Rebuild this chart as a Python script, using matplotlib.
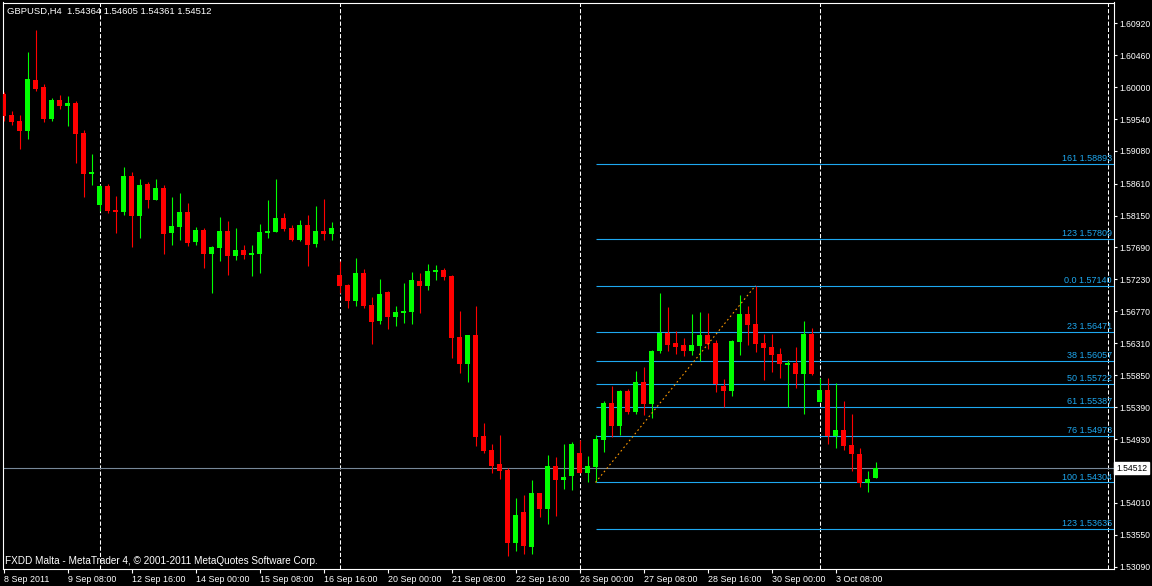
import matplotlib
matplotlib.use("Agg")
import matplotlib.pyplot as plt
import numpy as np
from matplotlib.transforms import blended_transform_factory

plt.rcParams['font.family'] = ['Liberation Sans', 'DejaVu Sans']

# GBPUSD H4 bars, 8 Sep 2011 00:00 .. 4 Oct 2011 04:00
opens = [
    1.5990, 1.5960, 1.5951, 1.5937, 1.6010, 1.6000, 1.5954, 1.5981, 1.5973, 1.5977,
    1.5934, 1.5875, 1.5830, 1.5858, 1.5823, 1.5820, 1.5872, 1.5814, 1.5860, 1.5837,
    1.5855, 1.5790, 1.5799, 1.5820, 1.5777, 1.5794, 1.5760, 1.5768, 1.5793, 1.5757,
    1.5765, 1.5758, 1.5760, 1.5790, 1.5791, 1.5812, 1.5797, 1.5780, 1.5801, 1.5774,
    1.5793, 1.5788, 1.5729, 1.5715, 1.5692, 1.5732, 1.5686, 1.5663, 1.5705, 1.5669,
    1.5675, 1.5676, 1.5721, 1.5714, 1.5734, 1.5737, 1.5728, 1.5640, 1.5601, 1.5643,
    1.5497, 1.5477, 1.5457, 1.5448, 1.5343, 1.5388, 1.5337, 1.5415, 1.5392, 1.5454,
    1.5434, 1.5440, 1.5473, 1.5444, 1.5453, 1.5492, 1.5545, 1.5512, 1.5562, 1.5532,
    1.5575, 1.5543, 1.5620, 1.5646, 1.5631, 1.5628, 1.5620, 1.5627, 1.5643, 1.5631,
    1.5569, 1.5562, 1.5633, 1.5673, 1.5659, 1.5631, 1.5626, 1.5615, 1.5600, 1.5602,
    1.5587, 1.5644, 1.5546, 1.5564, 1.5497, 1.5506, 1.5484, 1.5471, 1.5430, 1.54364,
]
highs = [
    1.5993, 1.5966, 1.5960, 1.6051, 1.6082, 1.6005, 1.5984, 1.5989, 1.5987, 1.5980,
    1.5938, 1.5904, 1.5859, 1.5860, 1.5843, 1.5885, 1.5878, 1.5868, 1.5863, 1.5868,
    1.5859, 1.5842, 1.5848, 1.5833, 1.5799, 1.5797, 1.5771, 1.5813, 1.5807, 1.5797,
    1.5773, 1.5773, 1.5803, 1.5837, 1.5868, 1.5819, 1.5801, 1.5809, 1.5816, 1.5829,
    1.5839, 1.5806, 1.5750, 1.5716, 1.5754, 1.5738, 1.5698, 1.5724, 1.5706, 1.5685,
    1.5718, 1.5734, 1.5732, 1.5745, 1.5744, 1.5739, 1.5729, 1.5678, 1.5643, 1.5685,
    1.5516, 1.5486, 1.5499, 1.5451, 1.5408, 1.5412, 1.5434, 1.5415, 1.5470, 1.5467,
    1.5486, 1.5489, 1.5492, 1.5469, 1.5499, 1.5548, 1.5569, 1.5564, 1.5565, 1.5591,
    1.5597, 1.5621, 1.5703, 1.5683, 1.5649, 1.5639, 1.5673, 1.5676, 1.5675, 1.5636,
    1.5580, 1.5636, 1.5701, 1.5685, 1.5714, 1.5644, 1.5644, 1.5624, 1.5607, 1.5626,
    1.5663, 1.5653, 1.5581, 1.5581, 1.5574, 1.5548, 1.5529, 1.5480, 1.5447, 1.54605,
]
lows = [
    1.5951, 1.5946, 1.5911, 1.5925, 1.5994, 1.5950, 1.5951, 1.5969, 1.5944, 1.5891,
    1.5842, 1.5859, 1.5822, 1.5819, 1.5790, 1.5816, 1.5770, 1.5783, 1.5826, 1.5837,
    1.5760, 1.5773, 1.5780, 1.5771, 1.5773, 1.5739, 1.5703, 1.5750, 1.5729, 1.5751,
    1.5752, 1.5728, 1.5732, 1.5783, 1.5791, 1.5793, 1.5778, 1.5778, 1.5742, 1.5770,
    1.5780, 1.5780, 1.5703, 1.5682, 1.5685, 1.5682, 1.5630, 1.5659, 1.5652, 1.5656,
    1.5660, 1.5659, 1.5675, 1.5708, 1.5722, 1.5722, 1.5610, 1.5588, 1.5575, 1.5483,
    1.5473, 1.5444, 1.5435, 1.5325, 1.5332, 1.5327, 1.5327, 1.5381, 1.5371, 1.5382,
    1.5421, 1.5420, 1.5444, 1.5431, 1.54304, 1.5474, 1.5496, 1.5499, 1.5529, 1.5529,
    1.5528, 1.5523, 1.5617, 1.5620, 1.5615, 1.5613, 1.5614, 1.5605, 1.5623, 1.5561,
    1.5539, 1.5555, 1.5614, 1.5628, 1.5618, 1.5578, 1.5590, 1.5581, 1.5539, 1.5567,
    1.5529, 1.5585, 1.5546, 1.5486, 1.5480, 1.5477, 1.5447, 1.5424, 1.5417, 1.54361,
]
closes = [
    1.5959, 1.5950, 1.5937, 1.6012, 1.5997, 1.5954, 1.5981, 1.5973, 1.5977, 1.5932,
    1.5875, 1.5878, 1.5858, 1.5822, 1.5820, 1.5872, 1.5814, 1.5859, 1.5837, 1.5855,
    1.5788, 1.5800, 1.5820, 1.5775, 1.5794, 1.5760, 1.5770, 1.5793, 1.5757, 1.5765,
    1.5758, 1.5761, 1.5791, 1.5793, 1.5812, 1.5796, 1.5780, 1.5801, 1.5773, 1.5793,
    1.5788, 1.5797, 1.5714, 1.5692, 1.5732, 1.5685, 1.5662, 1.5702, 1.5669, 1.5676,
    1.5677, 1.5722, 1.5714, 1.5735, 1.5737, 1.5726, 1.5639, 1.5601, 1.5643, 1.5496,
    1.5476, 1.5454, 1.5447, 1.5343, 1.5384, 1.5339, 1.5415, 1.5392, 1.5454, 1.5434,
    1.5438, 1.5486, 1.5444, 1.5454, 1.5493, 1.5545, 1.5512, 1.5562, 1.5532, 1.5575,
    1.5543, 1.5620, 1.5646, 1.5628, 1.5626, 1.5620, 1.5628, 1.5643, 1.5630, 1.5572,
    1.5562, 1.5634, 1.5673, 1.5657, 1.5630, 1.5624, 1.5614, 1.5601, 1.5602, 1.5587,
    1.5644, 1.5587, 1.5564, 1.5497, 1.5506, 1.5483, 1.5471, 1.5430, 1.5435, 1.54512,
]

date_bars = [0, 8, 16, 24, 32, 40, 48, 56, 64, 72, 80, 88, 96, 104]
date_labels = ["8 Sep 2011", "9 Sep 08:00", "12 Sep 16:00", "14 Sep 00:00", "15 Sep 08:00",
               "16 Sep 16:00", "20 Sep 00:00", "21 Sep 08:00", "22 Sep 16:00", "26 Sep 00:00",
               "27 Sep 08:00", "28 Sep 16:00", "30 Sep 00:00", "3 Oct 08:00"]
separator_bars = [12, 42, 72, 102, 138]

price_ticks = [1.60920, 1.60460, 1.60000, 1.59540, 1.59080, 1.58610, 1.58150, 1.57690,
               1.57230, 1.56770, 1.56310, 1.55850, 1.55390, 1.54930, 1.54010, 1.53550, 1.53090]

fib_names = ["161", "123", "0.0", "23", "38", "50", "61", "76", "100", "123"]
fib_prices = [1.58893, 1.57809, 1.57140, 1.56471, 1.56057, 1.55722, 1.55387, 1.54973, 1.54304, 1.53635]
fib_from, fib_to = 74, 94

W, H = 1152, 586
fig = plt.figure(figsize=(W / 100, H / 100), dpi=100, facecolor="black")
left, right, top, bottom = 2.5, 1113.5, 2.5, 569.0
ax = fig.add_axes([left / W, 1 - bottom / H, (right - left) / W, (bottom - top) / H])
ax.set_facecolor("black")

n = len(opens)
x = np.arange(n)
o = np.array(opens); c = np.array(closes); hi = np.array(highs); lo = np.array(lows)
up = c >= o
cols = np.where(up, "#00ff00", "#ff0000")

ax.vlines(x, lo, hi, colors=cols, linewidth=0.8, zorder=3)
body_lo = np.minimum(o, c)
body_h = np.maximum(np.abs(c - o), 0.00013)
ax.bar(x, body_h, bottom=body_lo, width=0.625, color=cols, linewidth=0, zorder=4)

# weekly separators
for b in separator_bars:
    ax.axvline(b, color="white", linewidth=0.75, linestyle=(0, (4, 2)), zorder=1)

xmin, xmax = (left - 3.5) / 8, (right - 3.5) / 8
ax.set_xlim(xmin, xmax)
ax.set_ylim(1.60920 - (bottom - 23.3) / 6940, 1.60920 + (23.3 - top) / 6940)

# current bid line
bid = closes[-1]
ax.axhline(bid, color="#778899", linewidth=0.8, zorder=2)

# fibonacci levels
ax.hlines(fib_prices, fib_from, xmax, colors="#1ea8f0", linewidth=0.8, zorder=2)
tr = blended_transform_factory(ax.transAxes, ax.transData)
for name, p in zip(fib_names, fib_prices):
    ax.text(0.9985, p + 0.00012, f"{name} {p:.5f}", transform=tr, ha="right", va="bottom",
            color="#1ea8f0", fontsize=6.5, zorder=5)
ax.plot([fib_from, fib_to], [lows[fib_from], highs[fib_to]], color="#ff9a00",
        linewidth=0.8, linestyle=(0, (1.5, 2.5)), zorder=5)

for s in ax.spines.values():
    s.set_color("white")
    s.set_linewidth(0.8)

ax.set_xticks(date_bars)
ax.set_xticklabels(date_labels, ha="left")
ax.tick_params(axis="x", colors="white", length=3, width=0.8, pad=1.5, labelsize=6.4)

ax.yaxis.tick_right()
ax.set_yticks(price_ticks)
ax.set_yticklabels([f"{v:.5f}" for v in price_ticks])
ax.tick_params(axis="y", colors="white", length=2.5, width=0.8, pad=1.5, labelsize=6.2)

ax.text(1.0022, bid, f"{bid:.5f}", transform=tr, ha="left", va="center", color="black",
        fontsize=6.2, bbox=dict(boxstyle="square,pad=0.2", fc="white", ec="white"), clip_on=False)

fig.text(7 / W, 1 - 11 / H, "GBPUSD,H4  %.5f %.5f %.5f %.5f" % (opens[-1], highs[-1], lows[-1], closes[-1]),
         color="white", fontsize=6.8, va="center", ha="left")
fig.text(5 / W, 1 - 561 / H, "FXDD Malta - MetaTrader 4, \u00a9 2001-2011 MetaQuotes Software Corp.",
         color="white", fontsize=7.2, va="center", ha="left")

fig.savefig("out.png", dpi=100, facecolor="black")
